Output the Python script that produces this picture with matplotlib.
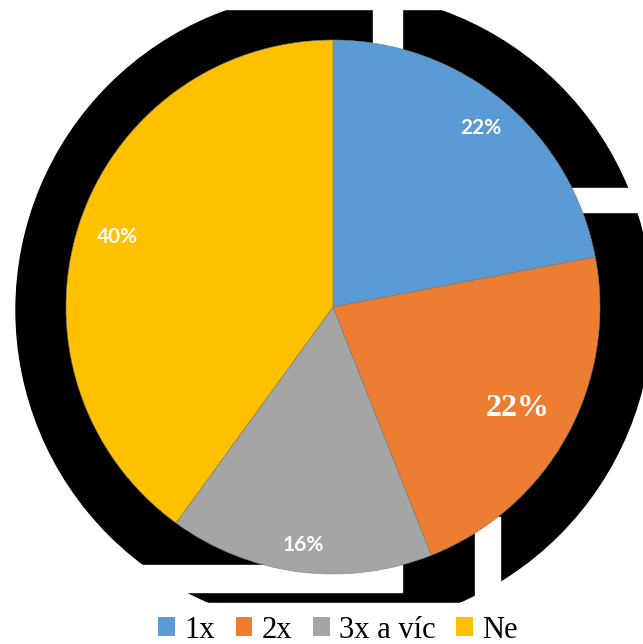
import numpy as np
import matplotlib.pyplot as plt
from matplotlib.patches import Circle, Rectangle

# data
labels = ["1x", "2x", "3x a víc", "Ne"]
shares = [22, 22, 16, 40]
colors = ["#5B9BD5", "#ED7D31", "#A5A5A5", "#FFC000"]
label_dist = [0.87, 0.79, 0.90, 0.85]

W, H = 643, 644
cx, cy, r = 333, 307, 267

fig = plt.figure(figsize=(W / 100, H / 100), dpi=100)
ax = fig.add_axes([0, 0, 1, 1])

# black "shadow" artefact behind the pie, with white cut-outs
ax.add_patch(Circle((cx + 1, cy + 3), 318, color="black", zorder=0))
for x0, y0, w, h in [
    (0, 0, W, 9),          # top clip
    (0, 603, W, 50),       # bottom clip
    (373, 0, 29, 48),      # notch at top
    (560, 188, 90, 24),    # notch at right
    (0, 565, 402, 27),     # gap under the pie
    (475, 517, 25, 130),   # gap at bottom right
]:
    ax.add_patch(Rectangle((x0, y0), w, h, color="white", zorder=0.5))

wedges, _, autotexts = ax.pie(
    shares,
    colors=colors,
    center=(cx, cy),
    radius=r,
    startangle=-90,
    counterclock=True,
    autopct="%1.0f%%",
    wedgeprops=dict(linewidth=0.4, edgecolor="#7f7f7f"),
)
for w in wedges:
    w.set_zorder(2)

for i, (w, t) in enumerate(zip(wedges, autotexts)):
    mid = np.deg2rad((w.theta1 + w.theta2) / 2)
    d = label_dist[i] * r
    t.set_position((cx + d * np.cos(mid), cy + d * np.sin(mid)))
    t.set_color("white")
    t.set_zorder(3)
    t.set_fontweight("bold")
    if i == 1:
        t.set_fontfamily("Liberation Serif")
        t.set_fontsize(23)
    else:
        t.set_fontfamily("Lato")
        t.set_fontsize(15)

ax.set_xlim(0, W)
ax.set_ylim(H, 0)
ax.set_aspect("equal")
ax.axis("off")

leg = ax.legend(
    wedges, labels,
    loc="center", bbox_to_anchor=(338 / W, 1 - 630 / H),
    ncol=4, frameon=False,
    prop={"family": "Liberation Serif", "size": 22},
    handlelength=0.55, handleheight=0.55,
    handletextpad=0.3, columnspacing=0.68, borderpad=0,
)
for h in leg.legend_handles:
    h.set_edgecolor("none")

fig.savefig("out.png", dpi=100)
